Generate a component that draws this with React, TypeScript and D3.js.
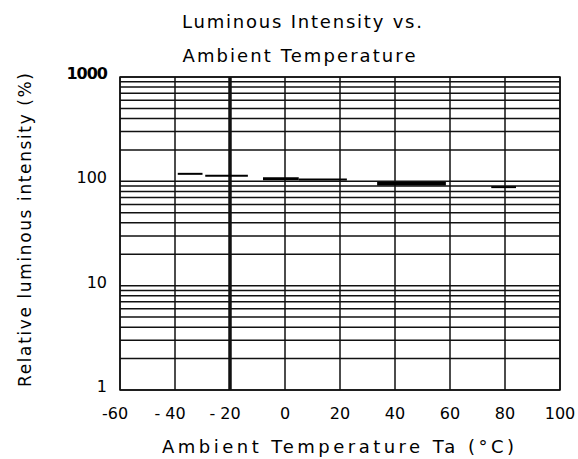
import * as d3 from 'd3';
import React from 'react';

// x axis ticks (°C)
const xTicks = [-60, -40, -20, 0, 20, 40, 60, 80, 100];
// y axis decade labels (%)
const yTicks = [1, 10, 100, 1000];
// data is drawn as short flat strokes: [temp start, temp end, relative intensity %]
const segStart = [-39, -29, -8, 5, 33.5, 75];
const segEnd = [-30, -13.5, 5, 22.5, 58.5, 84];
const segValue = [118, 113, 106, 104, 95, 88];
const segWidth = [2, 2, 3, 2, 3.5, 2];

const W = 578;
const H = 459;
const margin = { left: 120, right: 18, top: 77, bottom: 69 };
const FONT = '"DejaVu Sans", Arial, sans-serif';

const App = () => {
    const x = d3.scaleLinear().domain([-60, 100]).range([margin.left, W - margin.right]);
    const y = d3.scaleLog().domain([1, 1000]).range([H - margin.bottom, margin.top]);

    // minor log grid: 1..9 x each decade
    const gridY: number[] = [];
    [1, 10, 100].forEach(d => {
        for (let k = 1; k < 10; k++) gridY.push(d * k);
    });
    gridY.push(1000);

    const stroke = '#111';

    return (
        <svg width={W} height={H} style={{ position: 'absolute', left: 0, top: 0, background: '#fff' }}>
            {/* titles */}
            <text x={302} y={28} textAnchor="middle" fontFamily={FONT} fontSize={18}
                textLength={240} lengthAdjust="spacing">Luminous Intensity vs.</text>
            <text x={299} y={62} textAnchor="middle" fontFamily={FONT} fontSize={18}
                textLength={233} lengthAdjust="spacing">Ambient Temperature</text>

            {/* horizontal grid */}
            {gridY.map((v, i) => (
                <line key={'h' + i} x1={x(-60)} x2={x(100)} y1={y(v)} y2={y(v)}
                    stroke={stroke} strokeWidth={1.5} />
            ))}
            {/* vertical grid */}
            {xTicks.map(t => (
                <line key={'v' + t} x1={x(t)} x2={x(t)} y1={y(1000)} y2={y(1)}
                    stroke={stroke} strokeWidth={t === -20 ? 3.5 : 1.5} />
            ))}
            <rect x={x(-60)} y={y(1000)} width={x(100) - x(-60)} height={y(1) - y(1000)}
                fill="none" stroke={stroke} strokeWidth={1.5} />

            {/* data strokes */}
            {segValue.map((v, i) => (
                <line key={'s' + i} x1={x(segStart[i])} x2={x(segEnd[i])} y1={y(v)} y2={y(v)}
                    stroke="#000" strokeWidth={segWidth[i]} />
            ))}

            {/* y tick labels */}
            {yTicks.map(v => (
                <text key={'yt' + v} x={107} y={y(v) + 2} textAnchor="end" fontFamily={FONT}
                    fontSize={16} fontWeight={v === 1000 ? 'bold' : 'normal'}
                    letterSpacing={v === 1000 ? -1 : 0}>{v}</text>
            ))}
            {/* x tick labels */}
            {xTicks.map(t => (
                <text key={'xt' + t} x={x(t) - (t < 0 ? 5 : 0)} y={419} textAnchor="middle"
                    fontFamily={FONT} fontSize={16}>{t === -60 ? '-60' : t < 0 ? '- ' + Math.abs(t) : t}</text>
            ))}

            {/* axis titles */}
            <text x={338} y={453} textAnchor="middle" fontFamily={FONT} fontSize={18}
                textLength={352} lengthAdjust="spacing">Ambient Temperature Ta (°C)</text>
            <text transform={`translate(31, 230) rotate(-90)`} textAnchor="middle" fontFamily={FONT}
                fontSize={17} textLength={314} lengthAdjust="spacing">Relative luminous intensity   (%)</text>
        </svg>
    );
};

export default App;
